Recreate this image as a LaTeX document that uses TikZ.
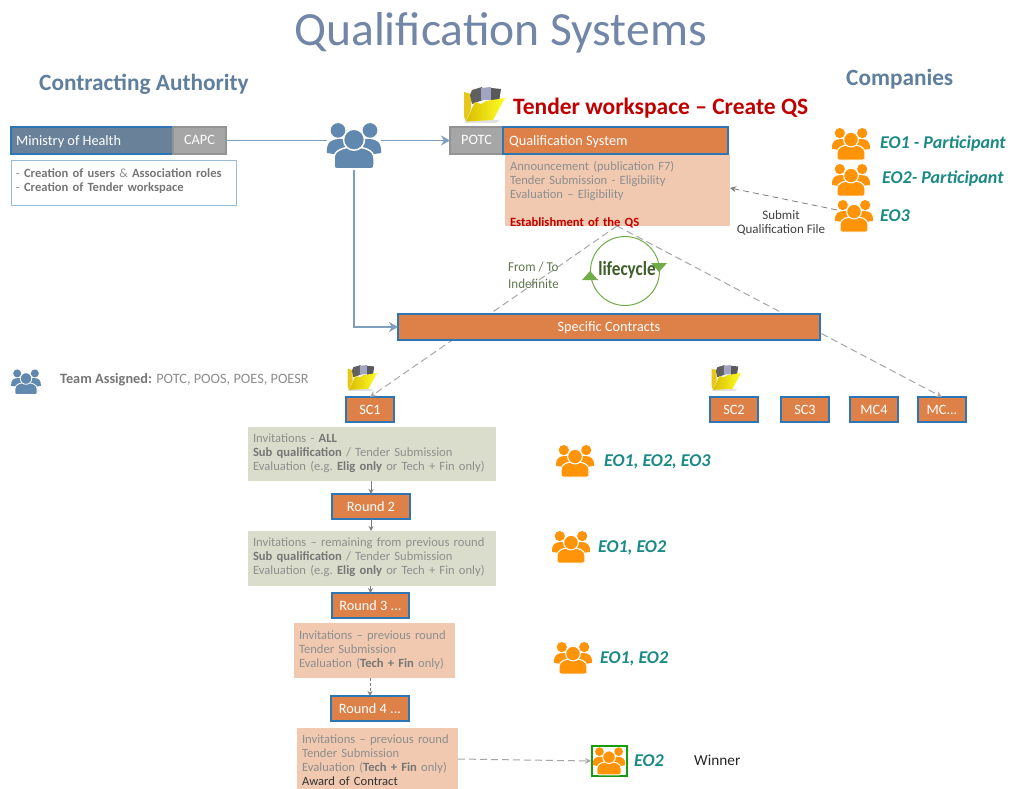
\documentclass[tikz,border=0pt]{standalone}
\usepackage{fontspec}
\setmainfont{Carlito}
\usetikzlibrary{arrows.meta}
\definecolor{steelA}{HTML}{6A8299}
\definecolor{steelB}{HTML}{2E75B6}
\definecolor{headA}{HTML}{5F7F9C}
\definecolor{titleC}{HTML}{7286A8}
\definecolor{greyB}{HTML}{A6A6A6}
\definecolor{orangeB}{HTML}{DD8148}
\definecolor{peachB}{HTML}{F0C9B0}
\definecolor{sageB}{HTML}{DADDCB}
\definecolor{txtG}{HTML}{8E8E8E}
\definecolor{txtB}{HTML}{767676}
\definecolor{linkB}{HTML}{7F9FBF}
\definecolor{iconB}{HTML}{6189AF}
\definecolor{iconO}{HTML}{FF9408}
\definecolor{tealC}{HTML}{1A8A85}
\definecolor{dashG}{HTML}{A6A6A6}
\definecolor{lifeG}{HTML}{70AD47}
\definecolor{redC}{HTML}{C00000}
\tikzset{
 bx/.style={draw=steelB,line width=1.3pt,anchor=north west,inner sep=0pt,outer sep=0pt,text=white,text height=11pt,text depth=2pt,font=\fontsize{14.3}{16}\selectfont},
 orangebox/.style={bx,fill=orangeB},
 greybox/.style={bx,draw=gray!85,fill=greyB},
 info/.style={anchor=north west,inner sep=5pt,outer sep=0pt,align=left,text=txtG,font=\fontsize{12.6}{14}\selectfont},
 eolabel/.style={anchor=west,inner sep=0pt,text=tealC,font=\fontsize{18}{20}\selectfont\bfseries\itshape},
 head/.style={anchor=west,inner sep=0pt,text=headA,font=\fontsize{23.3}{26}\selectfont\bfseries},
 bluelink/.style={draw=linkB,line width=1.6pt},
 dashlink/.style={draw=dashG,line width=1pt,dash pattern=on 7pt off 4pt},
 tinyarrow/.style={draw=gray,line width=.8pt,-{Stealth[length=5pt,width=5pt]}},
}
% \peopleicon{name}{x}{y}{scale}{colour}
\newcommand{\peopleicon}[5]{%
 \node[inner sep=0pt,outer sep=0pt,minimum width=#4*54pt,minimum height=#4*46pt] (#1) at (#2,#3) {};
 \begin{scope}[shift={(#2,#3)},scale=#4]
  \fill[#5] (-16,-15.6) circle (7.3);
  \fill[#5] (16,-15.6) circle (7.3);
  \fill[#5] (-27,7) .. controls (-28,-4) and (-22,-7) .. (-15,-7) -- (15,-7) .. controls (22,-7) and (28,-4) .. (27,7) -- (14,9) -- (-14,9) -- cycle;
  \path[fill=#5,draw=white,line width=#4*1.5pt] (-17,23) .. controls (-20,23) and (-20,21) .. (-20,19) -- (-20,12) .. controls (-20,4) and (-10,1) .. (0,1) .. controls (10,1) and (20,4) .. (20,12) -- (20,19) .. controls (20,21) and (20,23) .. (17,23) -- cycle;
  \path[fill=#5,draw=white,line width=#4*1.5pt] (0,-6.3) circle (10.5);
 \end{scope}}
% \foldericon{x}{y}{scale}
\newcommand{\foldericon}[3]{%
 \begin{scope}[shift={(#1,#2)},scale=#3]
  \fill[black!12] (-19,15) -- (16,15) -- (12,18) -- (-19,18) -- cycle;
  \fill[yellow!75!orange!90!black] (-20,-13) -- (-13,-11) -- (-13,4) -- (-18,16) -- (-20,12) -- cycle;
  \fill[gray!75!black] (-14,-10) -- (-12,-15) -- (-2,-18) -- (-1,-5) -- (-12,-1) -- cycle;
  \fill[blue!20!gray!60] (-3,-17) -- (7,-18) -- (7,-5) -- (-3,-5) -- cycle;
  \fill[gray!70!black] (7,-17) -- (17,-16) -- (15,-3) -- (7,-4) -- cycle;
  \shade[left color=yellow!75!orange!85!black,right color=yellow!85!white] (-18,16.5) -- (-9,-3) -- (-3,-1) -- (2,-4) -- (21,-7) -- (9,15) -- cycle;
 \end{scope}}
\newcommand{\tb}[1]{\textbf{\textcolor{txtB}{#1}}}
\begin{document}
\begin{tikzpicture}[x=1pt,y=-1pt]
\useasboundingbox[fill=white] (0,0) rectangle (1010,789);

% headings
\node[inner sep=0pt,text=titleC,font=\fontsize{47.6}{52}\selectfont] (title) at (500.5,33) {Qualification Systems};
\node[head] (ca) at (39,84) {Contracting Authority};
\node[head] (comp) at (846,79) {Companies};

% left column
\node[bx,fill=steelA,minimum width=162pt,minimum height=27pt] (moh) at (11,127) {};
\node[anchor=west,inner sep=0pt,text=white,font=\fontsize{14.3}{16}\selectfont] (mohtext) at (16,142) {Ministry of Health};
\node[greybox,minimum width=53pt,minimum height=27pt] (capc) at (173,127) {CAPC};
\node[info,draw=steelB!50,line width=1pt,text width=215pt,minimum height=45pt] (notes) at (11,161) {- \tb{Creation of users} \& \tb{Association roles}\\- \tb{Creation of Tender workspace}\\[-7pt]~};

\peopleicon{team}{354}{146}{1}{iconB}

% tender workspace
\foldericon{484}{105}{1}
\node[anchor=west,inner sep=0pt,text=redC,font=\fontsize{23.5}{26}\selectfont\bfseries] (tw) at (513,108) {Tender workspace -- Create QS};
\node[greybox,minimum width=53pt,minimum height=27pt] (potc) at (450,127) {POTC};
\node[orangebox,minimum width=225pt,minimum height=27pt] (qs) at (503,127) {};
\node[anchor=west,inner sep=0pt,text=white,font=\fontsize{14.3}{16}\selectfont] (qstext) at (509,142) {Qualification System};
\node[fill=peachB,anchor=north west,inner sep=0pt,outer sep=0pt,minimum width=225pt,minimum height=71pt] (qsd) at (505,155) {};
\node[info,text width=215pt] (qstxt) at (505,156) {Announcement (publication F7)\\Tender Submission - Eligibility\\Evaluation -- Eligibility\\~\\\textcolor{redC}{\textbf{Establishment of the QS}}};

\coordinate (apex) at (617,226);

% contracts row
\foldericon{362}{378}{.72}
\foldericon{726}{378}{.72}
\node[orangebox,minimum width=48pt,minimum height=25pt] (sc1) at (346,397) {SC1};
\node[orangebox,minimum width=48pt,minimum height=25pt] (sc2) at (710,397) {SC2};
\node[orangebox,minimum width=48pt,minimum height=25pt] (sc3) at (781,397) {SC3};
\node[orangebox,minimum width=48pt,minimum height=25pt] (mc4) at (850,397) {MC4};
\node[orangebox,minimum width=48pt,minimum height=25pt] (mcx) at (918,397) {MC...};

\draw[dashlink,-{Stealth[length=6pt,width=6pt]}] (apex) -- (sc1.north);
\draw[dashlink,-{Stealth[length=6pt,width=6pt]}] (apex) -- (mcx.north);

% specific contracts, over the two dashed lines
\node[orangebox,minimum width=422pt,minimum height=26pt] (spec) at (398,314) {Specific Contracts};

% lifecycle
\node[draw=lifeG,line width=1pt,circle,minimum size=69pt,inner sep=0pt] (life) at (625,271) {};
\fill[lifeG] (582,280) -- (590,271) -- (598,280) -- cycle;
\fill[lifeG] (651,263) -- (667,263) -- (659,272) -- cycle;
\node[inner sep=0pt,text=black!45!lifeG] (lifetext) at (627,270) {\fontsize{20}{22}\selectfont\bfseries\scalebox{.86}[1]{lifecycle}};
\node[anchor=north west,inner sep=0pt,align=left,text=black!35!lifeG!60!gray,font=\fontsize{13.5}{17}\selectfont] (fromto) at (508,262) {\scalebox{.96}[1]{From / To}\\\scalebox{.96}[1]{Indefinite}};

% team assigned
\peopleicon{teamb}{26}{382}{.55}{iconB}
\node[anchor=west,inner sep=0pt,text=txtG,font=\fontsize{14.3}{16}\selectfont] (assigned) at (60,380) {\tb{Team Assigned:} POTC, POOS, POES, POESR};

% rounds
\node[info,fill=sageB,minimum width=248pt,minimum height=54pt,text width=238pt] (inv1) at (248,427) {Invitations - \tb{ALL}\\\tb{Sub qualification} / Tender Submission\\Evaluation (e.g.\ \tb{Elig only} or Tech + Fin only)\\[-10pt]~};
\node[orangebox,minimum width=78pt,minimum height=25pt] (r2) at (332,494) {Round 2};
\node[info,fill=sageB,minimum width=248pt,minimum height=55pt,text width=238pt] (inv2) at (248,531) {Invitations -- remaining from previous round\\\tb{Sub qualification} / Tender Submission\\Evaluation (e.g.\ \tb{Elig only} or Tech + Fin only)\\[-10pt]~};
\node[orangebox,minimum width=77pt,minimum height=25pt] (r3) at (332,593) {Round 3 ...};
\node[info,fill=peachB,minimum width=161pt,minimum height=55pt,text width=151pt] (inv3) at (294,623) {Invitations -- previous round\\Tender Submission\\Evaluation (\tb{Tech + Fin} only)\\[-12pt]~};
\node[orangebox,minimum width=78pt,minimum height=25pt] (r4) at (331,696) {Round 4 ...};
\node[info,fill=peachB,minimum width=161pt,minimum height=65pt,text width=151pt] (inv4) at (297,728) {Invitations -- previous round\\Tender Submission\\Evaluation (\tb{Tech + Fin} only)\\\textcolor{black!80}{Award of Contract}};

% companies
\peopleicon{eoa}{851}{144}{.7}{iconO}
\peopleicon{eob}{851}{180}{.7}{iconO}
\peopleicon{eoc}{854}{216}{.7}{iconO}
\node[eolabel] (la) at (880,144) {EO1 - Participant};
\node[eolabel] (lb) at (882,179) {EO2- Participant};
\node[eolabel] (lc) at (880,216) {EO3};
\node[anchor=center,align=center,inner sep=0pt,text=black!75,font=\fontsize{13}{14}\selectfont] (submit) at (781,223) {Submit\\Qualification File};
\peopleicon{eod}{575}{461}{.7}{iconO}
\node[eolabel] (ld) at (604,462) {EO1, EO2, EO3};
\peopleicon{eoe}{571}{547}{.7}{iconO}
\node[eolabel] (le) at (598,548) {EO1, EO2};
\peopleicon{eof}{573}{658}{.7}{iconO}
\node[eolabel] (lf) at (600,659) {EO1, EO2};
\node[draw=green!60!black!80!lifeG,line width=2pt,minimum width=35pt,minimum height=30pt,inner sep=0pt] (winbox) at (609.5,761) {};
\peopleicon{eog}{609}{761}{.6}{iconO}
\node[eolabel] (lg) at (634,761) {EO2};
\node[anchor=west,inner sep=0pt,text=black!85,font=\fontsize{15.3}{17}\selectfont] (winner) at (694,760) {Winner};

% connectors
\draw[bluelink] (capc.east) -- (team.west |- capc.east);
\draw[bluelink,-{Stealth[length=9pt,width=10pt]}] (team.east |- potc.west) -- (potc.west);
\draw[bluelink,-{Stealth[length=9pt,width=10pt]}] (team.south) ++(0,1) |- (spec.west);
\draw[draw=gray,line width=.8pt,dash pattern=on 6pt off 4pt,-{Stealth[length=6pt,width=6pt]}] (eoc.west) ++(2,-6) -- (qsd.east |- 0,188);
\draw[tinyarrow] (inv1.south -| r2.north) -- (r2.north);
\draw[tinyarrow] (r2.south) -- (inv2.north -| r2.south);
\draw[tinyarrow] (inv2.south -| r3.north) -- (r3.north);
\draw[tinyarrow,dash pattern=on 3pt off 2pt] (inv3.south -| r4.north) -- (r4.north);
\draw[draw=gray!70,line width=1pt,dash pattern=on 7pt off 4pt,-{Stealth[length=6pt,width=6pt]}] (inv4.east |- 0,759) -- (winbox.west);
\end{tikzpicture}
\end{document}
